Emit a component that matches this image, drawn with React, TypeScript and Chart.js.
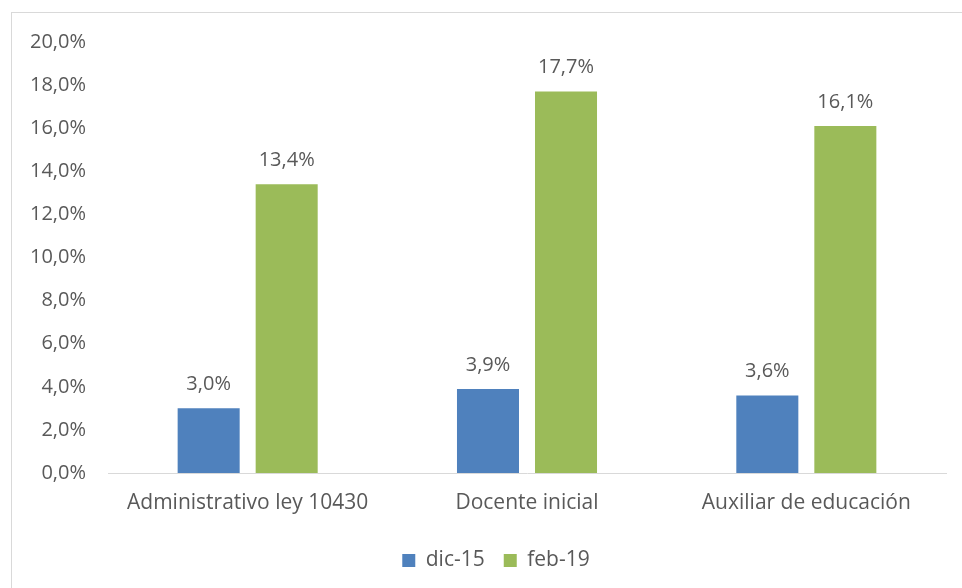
import React, { useEffect, useRef } from "react";
import { Chart, registerables } from "chart.js";

Chart.register(...registerables);

const categories = ["Administrativo ley 10430", "Docente inicial", "Auxiliar de educación"];
const seriesNames = ["dic-15", "feb-19"];
const dic15 = [3.0, 3.9, 3.6];
const feb19 = [13.4, 17.7, 16.1];
const yTicks = [0, 2, 4, 6, 8, 10, 12, 14, 16, 18, 20];

const FONT = "'Open Sans', sans-serif";
const TEXT = "#595959";
const FS = 20;
const FS_X = 21;

const fmt = (v: number) => v.toFixed(1).replace(".", ",") + "%";

const valueLabels = {
  id: "valueLabels",
  afterDatasetsDraw(chart: any) {
    const ctx = chart.ctx;
    ctx.save();
    ctx.fillStyle = TEXT;
    ctx.font = `${FS}px ${FONT}`;
    ctx.textAlign = "center";
    ctx.textBaseline = "bottom";
    chart.data.datasets.forEach((ds: any, i: number) => {
      const meta = chart.getDatasetMeta(i);
      meta.data.forEach((bar: any, j: number) => {
        ctx.fillText(fmt(ds.data[j]), bar.x, bar.y - 14);
      });
    });
    ctx.restore();
  },
};

const legendShift = {
  id: "legendShift",
  afterLayout(chart: any) {
    const lg = chart.legend;
    if (lg) {
      lg.left += 23;
      lg.right += 23;
    }
  },
};

export default function App() {
  const ref = useRef<HTMLCanvasElement>(null);
  useEffect(() => {
    if (!ref.current) return;
    const chart = new Chart(ref.current, {
      type: "bar",
      data: {
        labels: categories,
        datasets: [
          { label: seriesNames[0], data: dic15, backgroundColor: "#4F81BD" },
          { label: seriesNames[1], data: feb19, backgroundColor: "#9BBB59" },
        ],
      },
      options: {
        animation: false,
        responsive: false,
        maintainAspectRatio: false,
        datasets: { bar: { categoryPercentage: 0.5586, barPercentage: 0.795 } } as any,
        layout: { padding: { left: 0, right: 16, top: 42, bottom: 7 } },
        plugins: {
          tooltip: { enabled: false },
          legend: {
            position: "bottom",
            labels: {
              color: TEXT,
              font: { family: FONT, size: FS_X },
              boxWidth: 13,
              boxHeight: 13,
              padding: 19,
            },
          },
        },
        scales: {
          x: {
            afterFit: (s: any) => { s.height = 58; },
            grid: { display: false },
            border: { display: true, color: "#D9D9D9", width: 1 },
            ticks: { color: TEXT, font: { family: FONT, size: FS_X }, padding: 9 },
          },
          y: {
            min: 0,
            max: 20,
            afterFit: (s: any) => { s.width = 108; },
            afterBuildTicks: (s: any) => { s.ticks = yTicks.map((v) => ({ value: v })); },
            grid: { display: false },
            border: { display: false },
            ticks: {
              color: TEXT,
              font: { family: FONT, size: FS },
              padding: 14,
              callback: (v: any) => fmt(Number(v)),
            },
          },
        },
      },
      plugins: [valueLabels, legendShift],
    });
    return () => chart.destroy();
  }, []);
  return (
    <div style={{ position: "fixed", left: 0, top: 0, width: 962, height: 588, background: "#fff" }}>
      <div style={{ position: "absolute", left: 11, top: 12, width: 960, height: 600, border: "1px solid #D9D9D9", boxSizing: "border-box" }} />
      <canvas ref={ref} width={962} height={588} style={{ position: "absolute", left: 0, top: 0 }} />
    </div>
  );
}
